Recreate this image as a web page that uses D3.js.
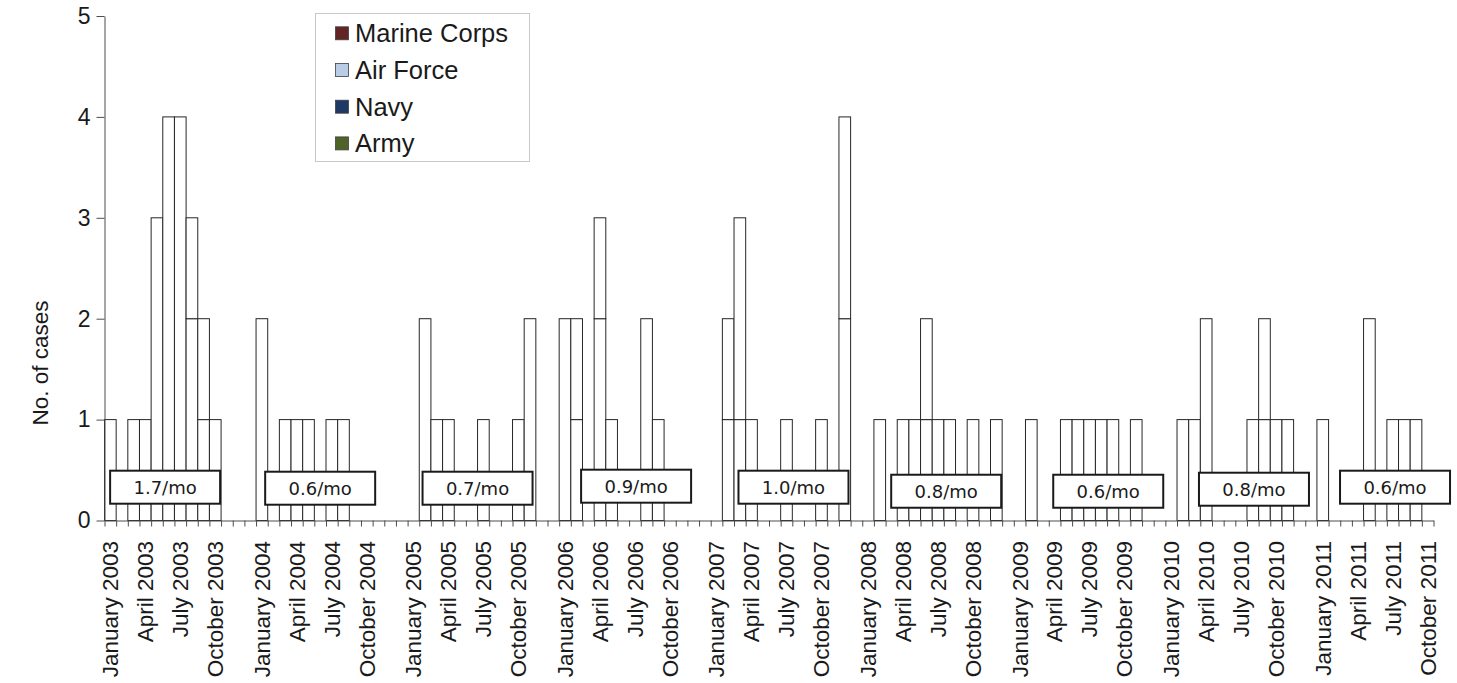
<!DOCTYPE html>
<html><head><meta charset="utf-8">
<script src="https://cdn.jsdelivr.net/npm/d3@7/dist/d3.min.js"></script>
<style>
body{margin:0;background:#fff}
svg text{font-family:"Liberation Sans",Arial,sans-serif}
</style>
</head><body>
<svg id="chart" width="1457" height="683"></svg>
<script>
// ---------- DATA ----------
const monthNames = ["January","February","March","April","May","June","July","August","September","October","November","December"];
const years = [2003,2004,2005,2006,2007,2008,2009,2010,2011];
const monthsShownLastYear = 10; // axis ends at October 2011
const labelMonths = ["January","April","July","October"];

// Monthly case counts, January 2003 .. October 2011 (one row per year)
const army = [
  1,0,1,1,3,4,4,2,1,1,0,0,   // 2003
  2,0,1,1,1,0,1,1,0,0,0,0,   // 2004
  0,2,1,1,0,0,1,0,0,1,2,0,   // 2005
  2,1,0,2,1,0,0,2,1,0,0,0,   // 2006
  0,1,1,1,0,0,1,0,0,1,0,2,   // 2007
  0,1,0,1,1,1,1,1,0,1,0,1,   // 2008
  0,1,0,0,1,1,1,1,1,0,1,0,   // 2009
  0,1,1,2,0,0,0,1,1,1,1,0,   // 2010
  1,0,0,0,2,0,1,1,1,0        // 2011
];
const navy = [
  0,0,0,0,0,0,0,1,1,0,0,0,
  0,0,0,0,0,0,0,0,0,0,0,0,
  0,0,0,0,0,0,0,0,0,0,0,0,
  0,1,0,1,0,0,0,0,0,0,0,0,
  0,1,2,0,0,0,0,0,0,0,0,2,
  0,0,0,0,0,1,0,0,0,0,0,0,
  0,0,0,0,0,0,0,0,0,0,0,0,
  0,0,0,0,0,0,0,0,1,0,0,0,
  0,0,0,0,0,0,0,0,0,0
];
const airForce = [
  0,0,0,0,0,0,0,0,0,0,0,0,
  0,0,0,0,0,0,0,0,0,0,0,0,
  0,0,0,0,0,0,0,0,0,0,0,0,
  0,0,0,0,0,0,0,0,0,0,0,0,
  0,0,0,0,0,0,0,0,0,0,0,0,
  0,0,0,0,0,0,0,0,0,0,0,0,
  0,0,0,0,0,0,0,0,0,0,0,0,
  0,0,0,0,0,0,0,0,0,0,0,0,
  0,0,0,0,0,0,0,0,0,0
];
const marineCorps = [
  0,0,0,0,0,0,0,0,0,0,0,0,
  0,0,0,0,0,0,0,0,0,0,0,0,
  0,0,0,0,0,0,0,0,0,0,0,0,
  0,0,0,0,0,0,0,0,0,0,0,0,
  0,0,0,0,0,0,0,0,0,0,0,0,
  0,0,0,0,0,0,0,0,0,0,0,0,
  0,0,0,0,0,0,0,0,0,0,0,0,
  0,0,0,0,0,0,0,0,0,0,0,0,
  0,0,0,0,0,0,0,0,0,0
];
const seriesKeys = ["army","navy","airForce","marineCorps"];
const seriesNames = ["Army","Navy","Air Force","Marine Corps"];
const seriesColors = ["#4f6228","#1f3864","#b9cde5","#632523"];
const yTicks = [0,1,2,3,4,5];

// Yearly average rate annotations
const rateLabels = ["1.7/mo","0.6/mo","0.7/mo","0.9/mo","1.0/mo","0.8/mo","0.6/mo","0.8/mo","0.6/mo"];
// anchor of each annotation box: [category position, value position]
const rateAnchors = [[5.2,0.33],[18.5,0.32],[32.0,0.32],[45.6,0.34],[59.1,0.33],[72.2,0.29],[86.1,0.29],[98.6,0.31],[110.7,0.33]];

// ---------- BUILD CATEGORIES ----------
const seriesData = {army, navy, airForce, marineCorps};
const cats = [];
let k = 0;
years.forEach((yr, yi) => {
  const n = yi === years.length - 1 ? monthsShownLastYear : 12;
  for (let m = 0; m < n; m++) {
    const row = {id: monthNames[m] + " " + yr, month: monthNames[m], year: yr};
    seriesKeys.forEach(s => row[s] = seriesData[s][k]);
    cats.push(row); k++;
  }
  if (yi < years.length - 1) {
    const row = {id: "gap " + yr, month: "", year: yr};
    seriesKeys.forEach(s => row[s] = 0);
    cats.push(row);
  }
});

// ---------- LAYOUT ----------
const X0 = 104.5, X1 = 1433.5, Y0 = 520.5, Y1 = 16;
const svg = d3.select("#chart");
svg.append("rect").attr("width",1457).attr("height",683).attr("fill","#fff");

const x = d3.scaleBand().domain(cats.map(d => d.id)).range([X0, X1]).padding(0);
const xEdge = d3.scaleLinear().domain([0, cats.length]).range([X0, X1]);
const y = d3.scaleLinear().domain([0, 5]).range([Y0, Y1]);

// ---------- BARS ----------
const stack = d3.stack().keys(seriesKeys)(cats);
const gBars = svg.append("g");
stack.forEach(layer => {
  gBars.selectAll(null)
    .data(layer.filter(d => d[1] - d[0] > 0))
    .enter().append("rect")
    .attr("x", d => x(d.data.id))
    .attr("width", x.bandwidth())
    .attr("y", d => y(d[1]))
    .attr("height", d => y(d[0]) - y(d[1]))
    .attr("fill", "#ffffff")
    .attr("stroke", "#262626")
    .attr("stroke-width", 1);
});

// ---------- AXES ----------
const gy = svg.append("g").attr("transform", `translate(${X0},0)`)
  .call(d3.axisLeft(y).tickValues(yTicks).tickSize(8).tickSizeOuter(0).tickPadding(6).tickFormat(d3.format("d")));
gy.selectAll("path,line").attr("stroke", "#4d4d4d");
gy.selectAll("text").attr("font-size", 23).attr("fill", "#1a1a1a")
  .style("font-family", '"Liberation Sans",Arial,sans-serif');

const gx = svg.append("g").attr("transform", `translate(0,${Y0})`)
  .call(d3.axisBottom(xEdge).tickValues(d3.range(cats.length + 1)).tickSize(6).tickSizeOuter(0).tickFormat(""));
gx.selectAll("path,line").attr("stroke", "#4d4d4d");

svg.append("g").selectAll("text")
  .data(cats.filter(d => labelMonths.includes(d.month)))
  .enter().append("text")
  .attr("transform", d => `translate(${x(d.id) + x.bandwidth() / 2},541) rotate(-90)`)
  .attr("text-anchor", "end")
  .attr("dy", "0.35em")
  .attr("font-size", 22.5)
  .attr("fill", "#1a1a1a")
  .text(d => d.id);

svg.append("text")
  .attr("transform", "translate(40,363) rotate(-90)")
  .attr("text-anchor", "middle")
  .attr("dy", "0.35em")
  .attr("font-size", 22.5)
  .attr("fill", "#1a1a1a")
  .text("No. of cases");

// ---------- RATE BOXES ----------
const gRate = svg.append("g");
rateLabels.forEach((t, i) => {
  const cx = xEdge(rateAnchors[i][0]), cy = y(rateAnchors[i][1]);
  gRate.append("rect")
    .attr("x", cx - 55).attr("y", cy - 16.5)
    .attr("width", 110).attr("height", 33)
    .attr("fill", "#fff").attr("stroke", "#1a1a1a").attr("stroke-width", 2);
  gRate.append("text")
    .attr("x", cx).attr("y", cy).attr("dy", "0.36em")
    .attr("text-anchor", "middle")
    .attr("font-size", 18)
    .style("font-family", '"DejaVu Sans",Verdana,sans-serif')
    .attr("fill", "#1a1a1a")
    .text(t);
});

// ---------- LEGEND ----------
const gLeg = svg.append("g");
gLeg.append("rect").attr("x", 315.5).attr("y", 13.5).attr("width", 214).attr("height", 148)
  .attr("fill", "#fff").attr("stroke", "#c8c8c8");
const legOrder = d3.range(seriesNames.length).reverse();
legOrder.forEach((si, i) => {
  const cy = 33.3 + i * 36.7;
  gLeg.append("rect").attr("x", 335.5).attr("y", cy - 6.5).attr("width", 13).attr("height", 13)
    .attr("fill", seriesColors[si]).attr("stroke", "#404040").attr("stroke-width", 0.8);
  gLeg.append("text").attr("x", 355).attr("y", cy).attr("dy", "0.35em")
    .attr("font-size", 25.5).attr("fill", "#1a1a1a").text(seriesNames[si]);
});
</script>
</body></html>
